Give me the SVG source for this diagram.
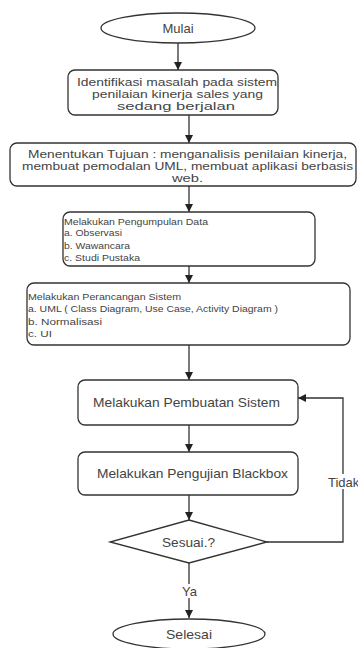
<svg xmlns="http://www.w3.org/2000/svg" width="358" height="648" viewBox="0 0 358 648">
<style>
.s{fill:#fff;stroke:#333;stroke-width:1.3}
.t{font-family:"Liberation Sans",Arial,sans-serif;fill:#444}
.c{text-anchor:middle}
.l{fill:none;stroke:#333;stroke-width:1.3}
</style>
<defs>
<marker id="a" viewBox="0 0 10 10" refX="10" refY="5" markerWidth="8" markerHeight="8" markerUnits="userSpaceOnUse" orient="auto">
<path d="M0,0 L10,5 L0,10 z" fill="#222"/>
</marker>
</defs>
<rect width="358" height="648" fill="#fff"/>
<g id="connectors">
<line class="l" x1="178" y1="43" x2="178" y2="70" marker-end="url(#a)"/>
<line class="l" x1="189" y1="115" x2="189" y2="143" marker-end="url(#a)"/>
<line class="l" x1="189" y1="186" x2="189" y2="212" marker-end="url(#a)"/>
<line class="l" x1="189" y1="266" x2="189" y2="283" marker-end="url(#a)"/>
<line class="l" x1="189" y1="345" x2="189" y2="380" marker-end="url(#a)"/>
<line class="l" x1="189" y1="425" x2="189" y2="452" marker-end="url(#a)"/>
<line class="l" x1="189" y1="495" x2="189" y2="520" marker-end="url(#a)"/>
<polyline class="l" points="267,542 343,542 343,398 298,398" marker-end="url(#a)"/>
<line class="l" x1="189" y1="563" x2="189" y2="618" marker-end="url(#a)"/>
<rect x="180" y="584" width="18" height="14" fill="#fff"/>
<text class="t c" x="189.5" y="596" font-size="13">Ya</text>
<rect x="328" y="474" width="30" height="15" fill="#fff"/>
<text class="t" x="328" y="487" font-size="13">Tidak</text>
</g>
<g id="mulai">
<ellipse class="s" cx="178" cy="28" rx="77" ry="15"/>
<text class="t c" x="178" y="32.5" font-size="13">Mulai</text>
</g>
<g id="identifikasi">
<rect class="s" x="68" y="70" width="210" height="45" rx="7"/>
<text class="t" font-size="11.5" lengthAdjust="spacingAndGlyphs"><tspan x="77" y="86" textLength="200" lengthAdjust="spacingAndGlyphs">Identifikasi masalah pada sistem</tspan><tspan x="92" y="98" textLength="171" lengthAdjust="spacingAndGlyphs">penilaian kinerja sales yang</tspan><tspan x="117" y="110" textLength="118" lengthAdjust="spacingAndGlyphs">sedang berjalan</tspan></text>
</g>
<g id="tujuan">
<rect class="s" x="10" y="143" width="346" height="43" rx="7"/>
<text class="t" font-size="11.5"><tspan x="28" y="157.5" textLength="319" lengthAdjust="spacingAndGlyphs">Menentukan Tujuan : menganalisis penilaian kinerja,</tspan><tspan x="22" y="170" textLength="331" lengthAdjust="spacingAndGlyphs">membuat pemodalan UML, membuat aplikasi berbasis</tspan><tspan x="172" y="182" textLength="31" lengthAdjust="spacingAndGlyphs">web.</tspan></text>
</g>
<g id="pengumpulan">
<rect class="s" x="63" y="212" width="252" height="54" rx="7"/>
<text class="t" font-size="9"><tspan x="64" y="225" textLength="144" lengthAdjust="spacingAndGlyphs">Melakukan Pengumpulan Data</tspan><tspan x="64" y="236" textLength="58" lengthAdjust="spacingAndGlyphs">a. Observasi</tspan><tspan x="64" y="249" textLength="66" lengthAdjust="spacingAndGlyphs">b. Wawancara</tspan><tspan x="64" y="261" textLength="76" lengthAdjust="spacingAndGlyphs">c. Studi Pustaka</tspan></text>
</g>
<g id="perancangan">
<rect class="s" x="27" y="283" width="323" height="62" rx="7"/>
<text class="t" font-size="9"><tspan x="28" y="300" textLength="153" lengthAdjust="spacingAndGlyphs">Melakukan Perancangan Sistem</tspan><tspan x="28" y="311.5" textLength="250" lengthAdjust="spacingAndGlyphs">a. UML ( Class Diagram, Use Case, Activity Diagram )</tspan><tspan x="28" y="325" textLength="74" lengthAdjust="spacingAndGlyphs">b. Normalisasi</tspan><tspan x="28" y="336.5" textLength="24" lengthAdjust="spacingAndGlyphs">c. UI</tspan></text>
</g>
<g id="pembuatan">
<rect class="s" x="78" y="380" width="220" height="45" rx="7"/>
<text class="t" x="93" y="406.5" font-size="13" textLength="187" lengthAdjust="spacingAndGlyphs">Melakukan Pembuatan Sistem</text>
</g>
<g id="pengujian">
<rect class="s" x="78" y="452" width="220" height="43" rx="7"/>
<text class="t" x="97" y="477.5" font-size="13" textLength="191" lengthAdjust="spacingAndGlyphs">Melakukan Pengujian Blackbox</text>
</g>
<g id="sesuai">
<polygon class="s" points="189,520 267,542 189,563 110,542"/>
<text class="t" x="162" y="546.5" font-size="13" textLength="53" lengthAdjust="spacingAndGlyphs">Sesuai.?</text>
</g>
<g id="selesai">
<ellipse class="s" cx="189" cy="634" rx="76" ry="15"/>
<text class="t" x="166" y="638.5" font-size="13" textLength="46" lengthAdjust="spacingAndGlyphs">Selesai</text>
</g>
</svg>
